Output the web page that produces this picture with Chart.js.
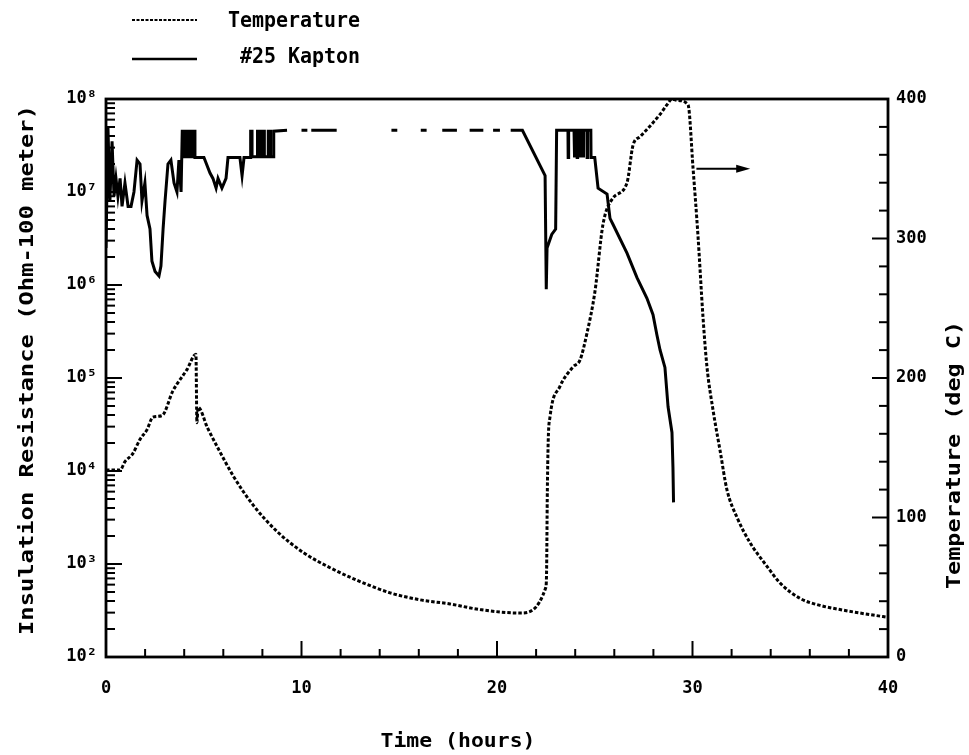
<!DOCTYPE html>
<html>
<head>
<meta charset="utf-8">
<script src="https://cdn.jsdelivr.net/npm/chart.js@4.4.0/dist/chart.umd.min.js"></script>
<style>html,body{margin:0;padding:0;background:#fff;}canvas{display:block;}</style>
</head>
<body>
<canvas id="c" width="969" height="755"></canvas>
<script>
// ---- data ----
const tempHours = [0, 0.72, 0.97, 1.38, 1.74, 2.10, 2.40, 2.86, 3.43, 4.14, 4.60, 4.65, 4.71, 5.20, 5.68, 6.50, 7.52, 8.75, 10.08, 11.46, 12.84, 14.53, 16.06, 17.6, 19.13, 21.18, 22.5, 22.54, 22.57, 22.62, 22.71, 23.22, 23.89, 24.25, 24.6, 25.01, 25.42, 25.93, 26.65, 26.96, 27.32, 28.34, 28.7, 28.95, 29.2, 29.77, 30.03, 30.28, 30.54, 30.74, 31.05, 31.41, 31.76, 32.28, 32.94, 33.81, 34.48, 35.5, 36.52, 37.54, 38.57, 39.74, 40];
const tempDegC = [134, 134, 140, 146, 156, 163, 172, 173, 191, 206, 217, 168, 179, 164, 151, 130, 109, 90, 75, 64, 55, 46, 41, 38, 34, 31.5, 50, 65, 113, 155, 172, 194, 208, 213, 232, 262, 310, 329, 340, 367, 373, 389, 396, 400, 399, 396, 350, 302, 243, 208, 177, 148, 120, 100, 82, 65, 53, 42, 37, 34, 31.5, 29, 28.5];

const kaptonHours = [
  0.00, 0.10, 0.20, 0.31, 0.41, 0.51, 0.61, 0.72, 0.82, 0.97, 1.13, 1.28, 1.43, 1.59, 1.74, 1.84, 1.99, 2.10, 2.25, 2.35, 2.51, 2.71, 2.81, 2.92, 3.02, 3.17, 3.32, 3.48, 3.63, 3.73, 3.84,
  3.90, 4.00, 4.00, 4.08, 4.08, 4.18, 4.18, 4.26, 4.26, 4.36, 4.36, 4.44, 4.44, 4.55, 4.55,
  4.71, 5.01, 5.32, 5.47, 5.63, 5.73, 5.93, 6.14, 6.24, 6.85, 6.96, 7.06, 7.37,
  7.40, 7.47, 7.47, 7.75, 7.75, 7.85, 7.85, 8.00, 8.00, 8.10, 8.10, 8.30, 8.30, 8.42, 8.42, 8.58, 8.58,
  9.26, 9.6, 10.0, 10.3, 10.4, 10.5, 11.8, 12.0, 14.6, 14.9, 15.0, 16.1, 16.4, 16.8, 17.2, 17.95, 18.2, 18.6, 19.3, 19.5, 19.8, 20.15, 20.4, 20.7, 21.3,
  22.46, 22.52, 22.56, 22.8, 23.0, 23.05,
  23.63, 23.64, 23.66, 23.67, 23.94, 23.95, 23.97, 23.98, 24.09, 24.10, 24.12, 24.13, 24.25, 24.26, 24.28, 24.29, 24.40, 24.41, 24.43, 24.44, 24.60, 24.61, 24.63, 24.64, 24.80, 24.81,
  25.0, 25.17, 25.63, 25.78, 25.93, 26.65, 27.16, 27.67, 27.98, 28.18, 28.34, 28.59, 28.75, 28.95, 29.0, 29.03
];
const kaptonOhms = [
  2.5e6, 5.0e7, 8e6, 3.5e7, 9e6, 1.4e7, 9e6, 1.4e7, 7e6, 1.25e7, 7e6, 7e6, 1e7, 2.2e7, 2.0e7, 8e6, 1.25e7, 5.6e6, 4e6, 1.8e6, 1.4e6, 1.25e6, 1.6e6, 4e6, 8e6, 2.0e7, 2.2e7, 1.25e7, 1e7, 2.2e7, 1e7,
  4.5e7, 4.5e7, 2.4e7, 2.4e7, 4.5e7, 4.5e7, 2.4e7, 2.4e7, 4.5e7, 4.5e7, 2.4e7, 2.4e7, 4.5e7, 4.5e7, 2.35e7,
  2.35e7, 2.35e7, 1.6e7, 1.4e7, 1.1e7, 1.4e7, 1.1e7, 1.4e7, 2.35e7, 2.35e7, 1.5e7, 2.35e7, 2.35e7,
  4.5e7, 4.5e7, 2.4e7, 2.4e7, 4.5e7, 4.5e7, 2.4e7, 2.4e7, 4.5e7, 4.5e7, 2.4e7, 2.4e7, 4.5e7, 4.5e7, 2.4e7, 2.4e7, 4.5e7,
  4.6e7, null, 4.6e7, 4.6e7, null, 4.6e7, 4.6e7, null, 4.6e7, 4.6e7, null, 4.6e7, 4.6e7, null, 4.6e7, 4.6e7, null, 4.6e7, 4.6e7, null, 4.6e7, 4.6e7, null, 4.6e7, 4.6e7,
  1.5e7, 9e5, 2.5e6, 3.5e6, 4e6, 4.6e7,
  4.6e7, 2.35e7, 2.35e7, 4.6e7, 4.6e7, 2.35e7, 2.35e7, 4.6e7, 4.6e7, 2.35e7, 2.35e7, 4.6e7, 4.6e7, 2.35e7, 2.35e7, 4.6e7, 4.6e7, 2.35e7, 2.35e7, 4.6e7, 4.6e7, 2.35e7, 2.35e7, 4.6e7, 4.6e7, 2.35e7,
  2.35e7, 1.1e7, 9.5e6, 5.2e6, 4.5e6, 2.2e6, 1.2e6, 7.2e5, 4.8e5, 2.9e5, 2.0e5, 1.3e5, 4.9e4, 2.6e4, 1.1e4, 4.6e3
];

const hourTicks = [0, 10, 20, 30, 40];
const resistanceTicks = [1e2, 1e3, 1e4, 1e5, 1e6, 1e7, 1e8];
const tempTicks = [0, 100, 200, 300, 400];
const legendLabels = ['Temperature', '#25 Kapton'];
const xTitle = 'Time (hours)';
const yLeftTitle = 'Insulation Resistance (Ohm-100 meter)';
const yRightTitle = 'Temperature (deg C)';
const arrowHours = [30.2, 32.95];
const arrowDegC = 350;

const FONT = '"DejaVu Sans Mono", "Liberation Mono", monospace';
const SUP = ['\u2070','\u00b9','\u00b2','\u00b3','\u2074','\u2075','\u2076','\u2077','\u2078','\u2079'];

function fitText(ctx, text, cx, cy, width, px, rot) {
  ctx.save();
  ctx.translate(cx, cy);
  ctx.rotate(rot);
  ctx.font = 'bold ' + px + 'px ' + FONT;
  const w = ctx.measureText(text).width;
  ctx.scale(width / w, 1);
  ctx.textAlign = 'center';
  ctx.textBaseline = 'middle';
  ctx.fillStyle = '#000';
  ctx.fillText(text, 0, 0);
  ctx.restore();
}

const decorations = {
  id: 'decorations',
  afterDatasetsDraw(chart) {
    const ctx = chart.ctx, a = chart.chartArea;
    const xs = chart.scales.x, yl = chart.scales.yR, yr = chart.scales.yT;
    ctx.save();
    ctx.strokeStyle = '#000';
    ctx.lineCap = 'butt';
    ctx.lineWidth = 2.8;
    ctx.strokeRect(a.left, a.top, a.right - a.left, a.bottom - a.top);
    ctx.lineWidth = 2;
    const seg = (x1, y1, x2, y2) => { ctx.beginPath(); ctx.moveTo(x1, y1); ctx.lineTo(x2, y2); ctx.stroke(); };
    for (let h = 0; h <= 40; h += 2) {
      const p = xs.getPixelForValue(h);
      seg(p, a.bottom, p, a.bottom - (h % 10 === 0 ? 16 : 8));
    }
    for (let e = 2; e < 8; e++) {
      for (let m = 1; m <= 9; m++) {
        const p = yl.getPixelForValue(m * Math.pow(10, e));
        seg(a.left, p, a.left + (m === 1 ? 16 : 9), p);
      }
    }
    for (let t = 0; t <= 400; t += 20) {
      const p = yr.getPixelForValue(t);
      seg(a.right, p, a.right - (t % 100 === 0 ? 16 : 9), p);
    }
    const ay = yr.getPixelForValue(arrowDegC);
    const ax1 = xs.getPixelForValue(arrowHours[0]);
    const ax2 = xs.getPixelForValue(arrowHours[1]);
    seg(ax1, ay, ax2 - 8, ay);
    ctx.beginPath();
    ctx.moveTo(ax2, ay); ctx.lineTo(ax2 - 14, ay - 4); ctx.lineTo(ax2 - 14, ay + 4); ctx.closePath();
    ctx.fillStyle = '#000'; ctx.fill();
    ctx.lineWidth = 2.2;
    ctx.setLineDash([3, 1.5]);
    seg(132, 20, 197, 20);
    ctx.setLineDash([]);
    ctx.lineWidth = 2.4;
    seg(132, 59, 197, 59);
    fitText(ctx, legendLabels[0], 294, 21, 132, 22, 0);
    fitText(ctx, legendLabels[1], 300, 57, 120, 22, 0);
    fitText(ctx, yLeftTitle, 28, 370, 530, 20, -Math.PI / 2);
    fitText(ctx, yRightTitle, 955, 455, 268, 20, -Math.PI / 2);
    fitText(ctx, xTitle, 458, 742, 155, 20, 0);
    ctx.restore();
  }
};

const tickFont = { family: FONT, size: 17, weight: 'bold' };

new Chart(document.getElementById('c'), {
  type: 'line',
  data: {
    datasets: [
      {
        label: legendLabels[0],
        data: tempHours.map((h, i) => ({ x: h, y: tempDegC[i] })),
        yAxisID: 'yT',
        borderColor: '#000',
        borderWidth: 3,
        borderDash: [3.5, 2],
        pointRadius: 0,
        cubicInterpolationMode: 'monotone',
        fill: false
      },
      {
        label: legendLabels[1],
        data: kaptonHours.map((h, i) => ({ x: h, y: kaptonOhms[i] })),
        yAxisID: 'yR',
        borderColor: '#000',
        borderWidth: 3,
        pointRadius: 0,
        tension: 0,
        spanGaps: false,
        fill: false
      }
    ]
  },
  options: {
    responsive: false,
    animation: false,
    devicePixelRatio: 1,
    layout: { padding: { top: 99, left: 0, right: 0, bottom: 0 } },
    plugins: { legend: { display: false }, tooltip: { enabled: false } },
    scales: {
      x: {
        type: 'linear', position: 'bottom', min: 0, max: 40,
        afterFit: s => { s.height = 98; },
        afterBuildTicks: s => { s.ticks = hourTicks.map(v => ({ value: v })); },
        ticks: { color: '#000', font: tickFont, padding: 21, maxRotation: 0, autoSkip: false },
        grid: { display: false, drawTicks: false, tickLength: 0 },
        border: { display: false }
      },
      yR: {
        type: 'logarithmic', position: 'left', min: 1e2, max: 1e8,
        afterFit: s => { s.width = 106; },
        afterBuildTicks: s => { s.ticks = resistanceTicks.map(v => ({ value: v })); },
        ticks: {
          color: '#000', font: tickFont, padding: 9, autoSkip: false,
          callback: v => '10' + SUP[Math.round(Math.log10(v))]
        },
        grid: { display: false, drawTicks: false, tickLength: 0 },
        border: { display: false }
      },
      yT: {
        type: 'linear', position: 'right', min: 0, max: 400,
        afterFit: s => { s.width = 81; },
        afterBuildTicks: s => { s.ticks = tempTicks.map(v => ({ value: v })); },
        ticks: { color: '#000', font: tickFont, padding: 8, autoSkip: false },
        grid: { display: false, drawTicks: false, tickLength: 0 },
        border: { display: false }
      }
    }
  },
  plugins: [decorations]
});
</script>
</body>
</html>
